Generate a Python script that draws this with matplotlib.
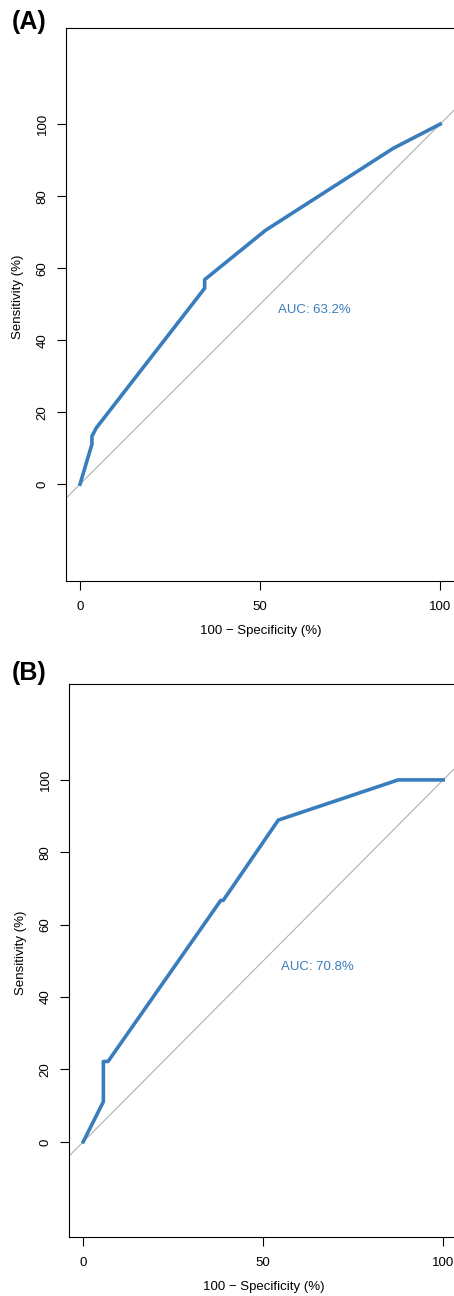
import matplotlib
matplotlib.use("Agg")
import matplotlib.pyplot as plt

plt.rcParams["font.family"] = ["Liberation Sans", "DejaVu Sans"]

# 100 - specificity (%) and sensitivity (%) for each ROC curve
fpr_a = [0, 3.3, 3.3, 4.5, 34.6, 34.6, 51.5, 87.0, 100]
tpr_a = [0, 11.1, 13.3, 15.6, 54.4, 56.8, 70.5, 93.3, 100]
auc_a = "AUC: 63.2%"

fpr_b = [0, 5.6, 5.6, 6.9, 38.2, 38.9, 54.2, 87.5, 100]
tpr_b = [0, 11.1, 22.2, 22.2, 66.7, 66.7, 88.9, 100, 100]
auc_b = "AUC: 70.8%"

paineis = ["(A)", "(B)"]
azul = "#3a7dbc"

W, H = 454, 1296
fig = plt.figure(figsize=(W / 100, H / 100), dpi=100)


def desenha_roc(ax, fpr, tpr, auc, xlim, ylim):
    ax.axline((0, 0), (100, 100), color="#b0b0b0", lw=0.8)
    ax.plot(fpr, tpr, color=azul, lw=2.6, solid_joinstyle="round")
    ax.text(55, 50, auc, color=azul, fontsize=9.5, ha="left", va="top")
    ax.set_xlim(*xlim)
    ax.set_ylim(*ylim)
    ax.set_xticks([0, 50, 100])
    ax.set_yticks([0, 20, 40, 60, 80, 100])
    ax.set_yticklabels(["0", "20", "40", "60", "80", "100"], rotation=90, va="center")
    ax.tick_params(labelsize=9.5, length=6.5, width=0.8, pad=6)
    ax.tick_params(axis="x", pad=8)
    for s in ax.spines.values():
        s.set_linewidth(0.8)
    ax.set_xlabel("100 \u2212 Specificity (%)", fontsize=9.5)
    ax.set_ylabel("Sensitivity (%)", fontsize=9.5)
    ax.xaxis.set_label_coords(0.5, -0.09)
    ax.yaxis.set_label_coords(-0.123, 0.5136)
    ax.xaxis.label.set_va("center")
    ax.yaxis.label.set_va("center")


# painel A: caixa em pixels (esq 66, topo 28, base 581)
ax1 = fig.add_axes([66 / W, 1 - 581 / H, 390 / W, 553 / H])
desenha_roc(ax1, fpr_a, tpr_a, auc_a, (-3.9, 104.4), (-26.9, 126.7))

# painel B: caixa em pixels (esq 69, topo 684, base 1237)
ax2 = fig.add_axes([69 / W, 1 - 1237 / H, 390 / W, 553 / H])
desenha_roc(ax2, fpr_b, tpr_b, auc_b, (-3.95, 104.4), (-26.3, 126.5))

fig.text(12 / W, 1 - 22 / H, paineis[0], fontsize=18, fontweight="bold", ha="left", va="center")
fig.text(12 / W, 1 - 673 / H, paineis[1], fontsize=18, fontweight="bold", ha="left", va="center")

fig.savefig("out.png", dpi=100)
